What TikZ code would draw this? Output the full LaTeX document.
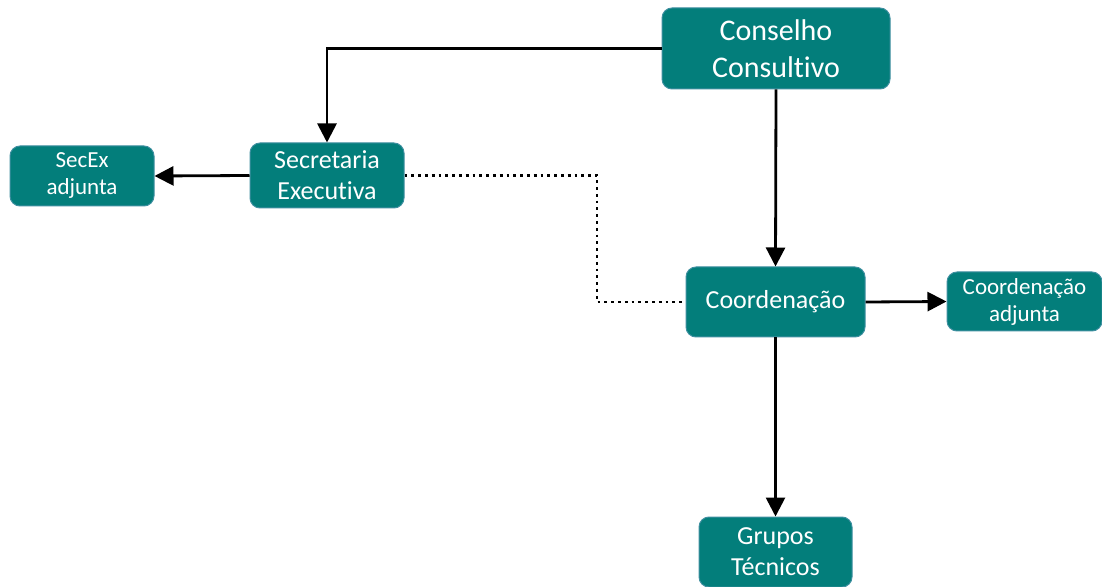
\documentclass[tikz,border=0pt]{standalone}
\usepackage{fontspec}
\setmainfont{Carlito}[Ligatures={NoCommon}]
\usepackage{tikz}
\usetikzlibrary{arrows.meta}
\definecolor{orgteal}{HTML}{037E7B}
\definecolor{orgedge}{HTML}{3F8FA0}

\begin{document}
\begin{tikzpicture}[x=0.5pt,y=-0.5pt,>={Triangle[length=9.5pt,width=9.5pt]},
  orgbox/.style={draw=orgedge,line width=0.5pt,fill=orgteal,text=white,
    rounded corners=5pt,align=center,inner sep=2pt,font=\fontsize{13}{15.5}\selectfont},
  orglink/.style={->,line width=1.4pt}]
\useasboundingbox (0,0) rectangle (1102,587);
\coordinate (cc) at (776,48.5);
\coordinate (se) at (327,175.5);
\coordinate (sa) at (82,176);
\coordinate (co) at (775.5,302);
\coordinate (ca) at (1024.5,301.5);
\coordinate (gt) at (775.5,552);
\coordinate (bend) at (597,302);
% The boxes
\node[orgbox,minimum width=114pt,minimum height=40.5pt,font=\fontsize{15}{18.5}\selectfont]
  (conselho) at (cc) {Conselho\\Consultivo};
\node[orgbox,minimum width=77pt,minimum height=32.5pt] (secretaria) at (se) {Secretaria\\Executiva};
\node[orgbox,minimum width=72pt,minimum height=30pt,font=\fontsize{11.5}{13.5}\selectfont]
  (secex) at (sa) {SecEx\\adjunta};
\node[orgbox,minimum width=89.5pt,minimum height=35pt] (coord) at (co) {Coordenação};
\node[orgbox,minimum width=77.5pt,minimum height=29.5pt,font=\fontsize{11.5}{13.5}\selectfont]
  (coordadj) at (ca) {Coordenação\\adjunta};
\node[orgbox,minimum width=76.5pt,minimum height=35pt] (grupos) at (gt) {Grupos\\Técnicos};

% The links
\draw[orglink] (conselho.west) -| (secretaria.north);
\draw[orglink] (conselho.south) -- (coord.north);
\draw[orglink] (secretaria.west) -- (secex.east);
\draw[line width=1.4pt,dotted] (secretaria.east) -| (bend) |- (coord.west);
\draw[orglink] (coord.east) -- (coordadj.west);
\draw[orglink] (coord.south) -- (grupos.north);
\end{tikzpicture}
\end{document}
